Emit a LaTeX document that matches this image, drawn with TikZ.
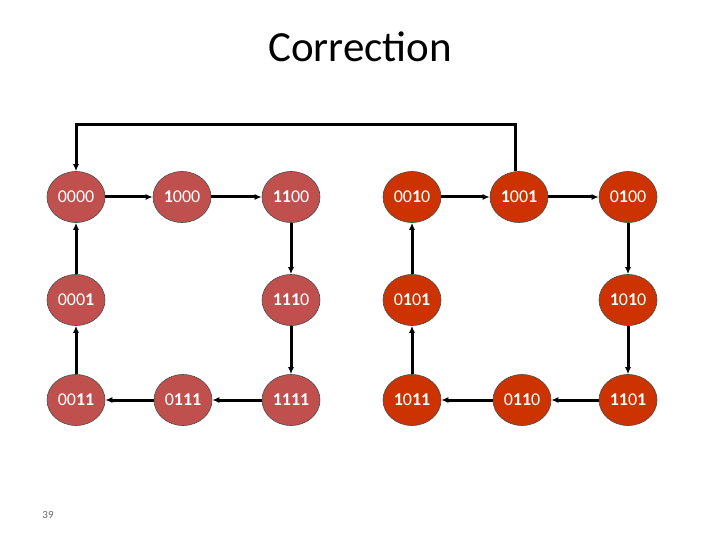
\documentclass[tikz,border=0pt]{standalone}
\usepackage{fontspec}
\setmainfont{Carlito}
\usetikzlibrary{arrows.meta}
\usetikzlibrary{positioning}
\usetikzlibrary{shapes.geometric}
\newcommand{\bz}{0}
\newcommand{\bo}{\textbf{1}}
\begin{document}
\begin{tikzpicture}[x=1pt,y=-1pt]
  \tikzset{
    state/.style={ellipse,draw=black!70,line width=0.6pt,minimum width=58pt,
      minimum height=51pt,inner sep=0pt,text=white,font=\fontsize{18}{20}\selectfont},
    leftstate/.style={state,fill={rgb,255:red,192;green,80;blue,77}},
    rightstate/.style={state,fill={rgb,255:red,204;green,51;blue,0}},
    link/.style={-{Latex[length=7pt,width=6pt]},line width=3pt},
  }
  \useasboundingbox (0,0) rectangle (720,540);
  %TITLE
  \node[font=\fontsize{43}{48}\selectfont] (title) at (360,47) {Correction};
  \node[black!60,font=\fontsize{11}{12}\selectfont] (page) at (48,515) {39};
  %LEFT CYCLE
  \node[leftstate] (s0000) at (76,197) {\bz\bz\bz\bz};
  \node[leftstate] (s1000) at (182,197) {\bo\bz\bz\bz};
  \node[leftstate] (s1100) at (291,197) {\bo\bo\bz\bz};
  \node[leftstate] (s0001) at (76,300) {\bz\bz\bz\bo};
  \node[leftstate] (s1110) at (291,300) {\bo\bo\bo\bz};
  \node[leftstate] (s0011) at (76,400) {\bz\bz\bo\bo};
  \node[leftstate] (s0111) at (183,400) {\bz\bo\bo\bo};
  \node[leftstate] (s1111) at (291,400) {\bo\bo\bo\bo};
  %RIGHT CYCLE
  \node[rightstate] (s0010) at (412,197) {\bz\bz\bo\bz};
  \node[rightstate] (s1001) at (519,197) {\bo\bz\bz\bo};
  \node[rightstate] (s0100) at (628,197) {\bz\bo\bz\bz};
  \node[rightstate] (s0101) at (412,300) {\bz\bo\bz\bo};
  \node[rightstate] (s1010) at (628,300) {\bo\bz\bo\bz};
  \node[rightstate] (s1011) at (412,400) {\bo\bz\bo\bo};
  \node[rightstate] (s0110) at (522,400) {\bz\bo\bo\bz};
  \node[rightstate] (s1101) at (628,400) {\bo\bo\bz\bo};
  %ARROWS
  \draw[link] (s0000) -- (s1000);
  \draw[link] (s1000) -- (s1100);
  \draw[link] (s1100) -- (s1110);
  \draw[link] (s1110) -- (s1111);
  \draw[link] (s1111) -- (s0111);
  \draw[link] (s0111) -- (s0011);
  \draw[link] (s0011) -- (s0001);
  \draw[link] (s0001) -- (s0000);
  \draw[link] (s0010) -- (s1001);
  \draw[link] (s1001) -- (s0100);
  \draw[link] (s0100) -- (s1010);
  \draw[link] (s1010) -- (s1101);
  \draw[link] (s1101) -- (s0110);
  \draw[link] (s0110) -- (s1011);
  \draw[link] (s1011) -- (s0101);
  \draw[link] (s0101) -- (s0010);
  \draw[link] ([xshift=-4pt]s1001.north) |- (76,125) -- (s0000.north);
\end{tikzpicture}
\end{document}
